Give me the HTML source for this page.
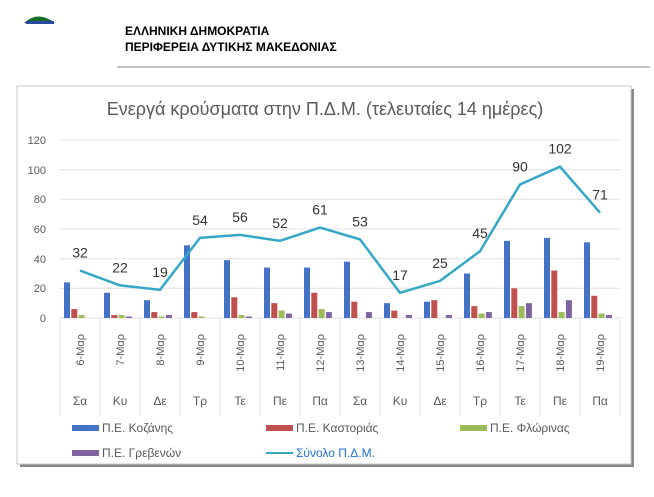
<!DOCTYPE html>
<html><head><meta charset="utf-8"><style>
body{margin:0;background:#fff;width:654px;height:492px;overflow:hidden;font-family:"Liberation Sans",sans-serif}
</style></head><body>
<svg width="654" height="492" xmlns="http://www.w3.org/2000/svg" font-family="Liberation Sans, sans-serif">
<path d="M24 23 Q38 10 55 23 Z" fill="#1a6a2a"/><rect x="26" y="21" width="28" height="3" fill="#2a4aa0"/>
<text x="125" y="35" font-size="12" font-weight="bold">ΕΛΛΗΝΙΚΗ ΔΗΜΟΚΡΑΤΙΑ</text>
<text x="125" y="51" font-size="12" font-weight="bold">ΠΕΡΙΦΕΡΕΙΑ ΔΥΤΙΚΗΣ ΜΑΚΕΔΟΝΙΑΣ</text>
<line x1="117" y1="67" x2="650" y2="67" stroke="#888" stroke-width="1"/>
<rect x="20" y="89" width="614" height="378" fill="#888"/>
<rect x="17" y="86" width="614" height="378" fill="#fff" stroke="#c8c8c8"/>
<text x="325" y="115" font-size="18" fill="#595959" text-anchor="middle">Ενεργά κρούσματα στην Π.Δ.Μ. (τελευταίες 14 ημέρες)</text>
<g stroke="#e0e0e0" stroke-width="1">
<line x1="60" x2="620" y1="140" y2="140"/><line x1="60" x2="620" y1="169.7" y2="169.7"/><line x1="60" x2="620" y1="199.3" y2="199.3"/><line x1="60" x2="620" y1="229" y2="229"/><line x1="60" x2="620" y1="258.7" y2="258.7"/><line x1="60" x2="620" y1="288.3" y2="288.3"/><line x1="60" x2="620" y1="318" y2="318"/>
</g>
<g font-size="11" fill="#595959" text-anchor="end">
<text x="46" y="144">120</text><text x="46" y="174">100</text><text x="46" y="203">80</text><text x="46" y="233">60</text><text x="46" y="263">40</text><text x="46" y="292">20</text><text x="46" y="322">0</text>
</g>
<g id="g"></g>
</svg>
<script>
var K=[24,17,12,49,39,34,34,38,10,11,30,52,54,51],C=[6,2,4,4,14,10,17,11,5,12,8,20,32,15],F=[2,2,1,1,2,5,6,0,0,0,3,8,4,3],G=[0,1,2,0,1,3,4,4,2,2,4,10,12,2],T=[32,22,19,54,56,52,61,53,17,25,45,90,102,71];
var D=["Σα","Κυ","Δε","Τρ","Τε","Πε","Πα","Σα","Κυ","Δε","Τρ","Τε","Πε","Πα"];
var cols=["#4472c4","#c0504d","#9bbb59","#8064a2"],s=29.67/20,h="";
for(var i=0;i<=14;i++){var x=60+40*i;h+='<line x1="'+x+'" x2="'+x+'" y1="318" y2="415" stroke="#e0e0e0"/>';}
for(i=0;i<14;i++){var x0=60+40*i;[K,C,F,G].forEach(function(a,j){var v=a[i]*s;h+='<rect x="'+(x0+4+j*7.3)+'" y="'+(318-v)+'" width="6" height="'+v+'" fill="'+cols[j]+'"/>';});
var cx=x0+20;h+='<text transform="translate('+(cx+4)+',334) rotate(-90)" font-size="11" fill="#595959" text-anchor="end">'+(i+6)+'-Μαρ</text>';
h+='<text x="'+cx+'" y="405" font-size="12" fill="#595959" text-anchor="middle">'+D[i]+'</text>';}
var p="";for(i=0;i<14;i++){var x=80+40*i,y=318-T[i]*s;p+=(i?"L":"M")+x+" "+y;h+='<text x="'+x+'" y="'+(y-13)+'" font-size="14" fill="#333" text-anchor="middle">'+T[i]+'</text>';}
h+='<path d="'+p+'" fill="none" stroke="#35a8c8" stroke-width="2.5"/>';
var L=[[72,428,0,"Π.Ε. Κοζάνης"],[266,428,1,"Π.Ε. Καστοριάς"],[460,428,2,"Π.Ε. Φλώρινας"],[72,453,3,"Π.Ε. Γρεβενών"]];
L.forEach(function(l){h+='<rect x="'+l[0]+'" y="'+(l[1]-3)+'" width="27" height="6" fill="'+cols[l[2]]+'"/><text x="'+(l[0]+30)+'" y="'+(l[1]+4)+'" font-size="12" fill="#595959">'+l[3]+'</text>';});
h+='<line x1="266" x2="293" y1="453" y2="453" stroke="#35a8c8" stroke-width="2"/><text x="296" y="457" font-size="12" fill="#1f6fd0">Σύνολο Π.Δ.Μ.</text>';
document.getElementById("g").innerHTML=h;
</script>
</body></html>
